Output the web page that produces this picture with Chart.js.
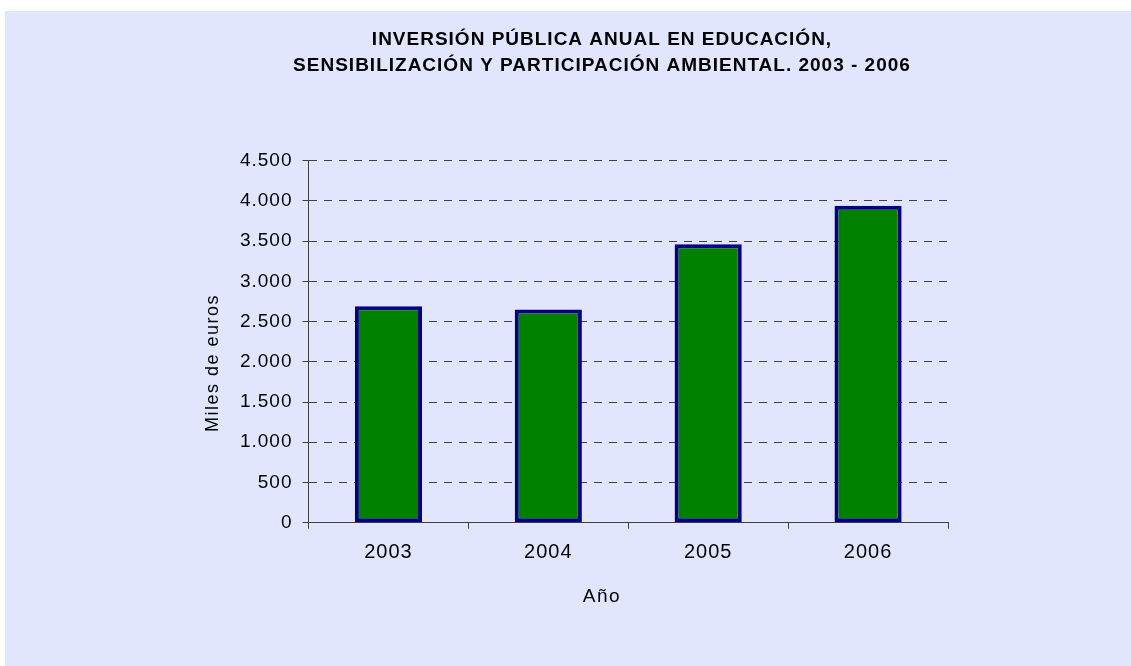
<!DOCTYPE html>
<html lang="es">
<head>
<meta charset="utf-8">
<title>Inversión pública anual en educación ambiental</title>
<script src="https://cdn.jsdelivr.net/npm/chart.js@4"></script>
<style>
  html, body { margin: 0; padding: 0; background: #ffffff; }
  #panel { position: absolute; left: 5px; top: 11px; width: 1126px; height: 655px; background: #e1e6fe; }
</style>
</head>
<body>
<div id="panel"><canvas id="chart"></canvas></div>
<script>
// datos (miles de euros)
const years = ['2003', '2004', '2005', '2006'];
const inversion = [2690, 2650, 3460, 3940];
const yTicks = [0, 500, 1000, 1500, 2000, 2500, 3000, 3500, 4000, 4500];
const titleLines = ['INVERSIÓN PÚBLICA ANUAL EN EDUCACIÓN,', 'SENSIBILIZACIÓN Y PARTICIPACIÓN AMBIENTAL. 2003 - 2006'];
const yTitle = 'Miles de euros';
const xTitle = 'Año';

const FONT = "'Liberation Sans', Arial, sans-serif";
const SPACING = '1px';

function formatMiles(value) {
  return String(value).replace(/\B(?=(\d{3})+(?!\d))/g, '.');
}

// el texto original sale con las letras algo separadas
const spacingPlugin = {
  id: 'spacingPlugin',
  beforeUpdate(chart) { chart.ctx.letterSpacing = SPACING; },
  beforeDraw(chart) { chart.ctx.letterSpacing = SPACING; }
};

function drawText(ctx, text, x, y, font, spacing, angle) {
  ctx.save();
  ctx.letterSpacing = spacing;
  ctx.translate(x, y);
  if (angle) ctx.rotate(angle);
  ctx.font = font;
  ctx.fillStyle = '#000000';
  ctx.textAlign = 'center';
  ctx.textBaseline = 'middle';
  ctx.fillText(text, 0, 0);
  ctx.restore();
}

// titulos: en el original no van centrados sobre el eje
const titlesPlugin = {
  id: 'titlesPlugin',
  afterDraw(chart) {
    const ctx = chart.ctx;
    titleLines.forEach((line, i) => {
      drawText(ctx, line, 597, 29 + i * 26, 'bold 19px ' + FONT, '1px', 0);
    });
    drawText(ctx, yTitle, 208, 352, '18px ' + FONT, '1.5px', -Math.PI / 2);
    drawText(ctx, xTitle, 597, 586, '19px ' + FONT, '1.5px', 0);
  }
};

const ctx = document.getElementById('chart').getContext('2d');

const data = {
  labels: years,
  datasets: [{
    label: yTitle,
    data: inversion,
    backgroundColor: '#008000',
    borderColor: '#000080',
    borderWidth: 4,
    borderSkipped: false,
    categoryPercentage: 1,
    barPercentage: 0.42
  }]
};

const options = {
  responsive: true,
  maintainAspectRatio: false,
  animation: false,
  layout: {
    padding: { left: 200, right: 183, top: 149.7, bottom: 0 }
  },
  scales: {
    y: {
      min: 0,
      max: 4500,
      afterBuildTicks: function (scale) {
        scale.ticks = yTicks.map(v => ({ value: v }));
      },
      afterFit: function (scale) {
        scale.width = 103.5;
      },
      ticks: {
        callback: function (value) {
          return formatMiles(value);
        },
        color: '#000000',
        padding: 10,
        font: { family: FONT, size: 19 }
      },
      grid: {
        color: '#404040',
        lineWidth: 1,
        tickLength: 6,
        tickColor: '#404040',
        tickBorderDash: []
      },
      border: {
        color: '#404040',
        width: 1,
        dash: [8, 7]
      }
    },
    x: {
      afterFit: function (scale) {
        scale.height = 143.3;
      },
      ticks: {
        color: '#000000',
        padding: 12,
        font: { family: FONT, size: 20 }
      },
      grid: {
        offset: true,
        drawOnChartArea: false,
        tickLength: 6,
        tickColor: '#404040'
      },
      border: {
        color: '#404040',
        width: 1
      }
    }
  },
  plugins: {
    legend: { display: false },
    tooltip: { enabled: false },
    title: { display: false }
  }
};

window.inversionChart = new Chart(ctx, {
  type: 'bar',
  data: data,
  options: options,
  plugins: [spacingPlugin, titlesPlugin]
});
</script>
</body>
</html>
